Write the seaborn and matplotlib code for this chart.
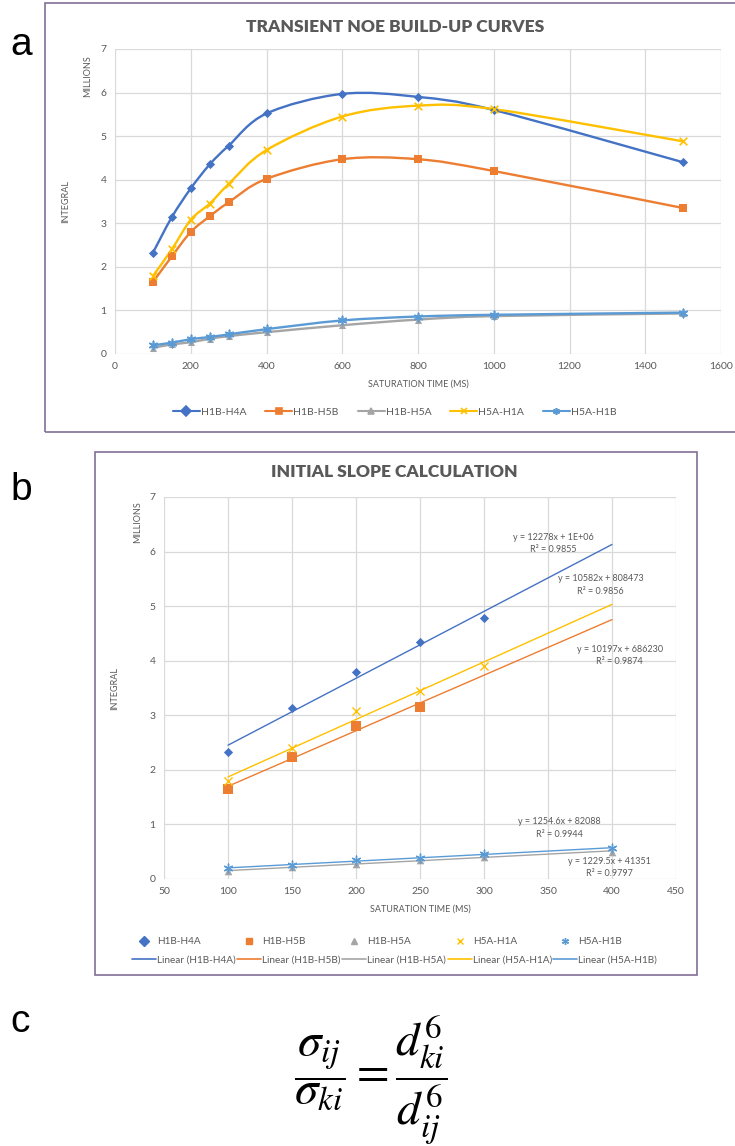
import numpy as np
import matplotlib
matplotlib.use("Agg")
import matplotlib.pyplot as plt
import seaborn as sns
from matplotlib.path import Path
from matplotlib.patches import PathPatch, Rectangle
from matplotlib.lines import Line2D

# saturation time (ms)
sat_time = [100, 150, 200, 250, 300, 400, 600, 800, 1000, 1500]

# integrals (millions)
h1b_h4a = [2.32, 3.14, 3.80, 4.35, 4.78, 5.52, 5.97, 5.90, 5.60, 4.40]
h1b_h5b = [1.65, 2.24, 2.80, 3.16, 3.48, 4.02, 4.47, 4.47, 4.20, 3.35]
h1b_h5a = [0.14, 0.22, 0.27, 0.35, 0.41, 0.50, 0.66, 0.79, 0.87, 0.93]
h5a_h1a = [1.79, 2.40, 3.08, 3.45, 3.90, 4.68, 5.45, 5.70, 5.62, 4.88]
h5a_h1b = [0.20, 0.26, 0.34, 0.39, 0.45, 0.57, 0.77, 0.86, 0.90, 0.95]

series_names = ["H1B-H4A", "H1B-H5B", "H1B-H5A", "H5A-H1A", "H5A-H1B"]
series_vals = [h1b_h4a, h1b_h5b, h1b_h5a, h5a_h1a, h5a_h1b]

# number of leading points used for the initial slope fit
n_initial = [5, 4, 6, 5, 6]
fit_range = [100, 400]

trend_text = [
    "y = 12278x + 1E+06\nR² = 0.9855",
    "y = 10197x + 686230\nR² = 0.9874",
    "y = 1229.5x + 41351\nR² = 0.9797",
    "y = 10582x + 808473\nR² = 0.9856",
    "y = 1254.6x + 82088\nR² = 0.9944",
]
trend_pos = [(354, 6.15), (406, 4.10), (398, 0.21), (391, 5.39), (359, 0.93)]

colors = ["#4472C4", "#ED7D31", "#A5A5A5", "#FFC000", "#5B9BD5"]
markers = ["D", "s", "^", "x", (6, 2, 0)]
msize_a = [22, 30, 26, 30, 36]
msize_b = [22, 50, 30, 34, 40]

text_grey = "#595959"
grid_grey = "#d9d9d9"
frame_col = "#826e96"

sns.set_theme(style="white")
plt.rcParams["font.family"] = ["Lato", "DejaVu Sans"]
plt.rcParams["mathtext.fontset"] = "stix"

fig = plt.figure(figsize=(7.35, 11.46), dpi=100)
fig.patch.set_facecolor("white")


def smooth_path(x, y):
    # excel-like smoothed line through the points (cubic bezier)
    pts = np.column_stack([x, y]).astype(float)
    verts = [pts[0]]
    codes = [Path.MOVETO]
    for i in range(len(pts) - 1):
        p0 = pts[i - 1] if i > 0 else pts[i]
        p3 = pts[i + 2] if i + 2 < len(pts) else pts[i + 1]
        c1 = pts[i] + (pts[i + 1] - p0) / 6
        c2 = pts[i + 1] - (p3 - pts[i]) / 6
        verts += [c1, c2, pts[i + 1]]
        codes += [Path.CURVE4] * 3
    return Path(verts, codes)


def style_axes(ax, xlim, xticks):
    ax.set_xlim(xlim)
    ax.set_ylim(0, 7)
    ax.set_xticks(xticks)
    ax.set_yticks(range(8))
    ax.grid(True, color=grid_grey, lw=0.9)
    ax.set_axisbelow(True)
    for s in ax.spines.values():
        s.set_visible(False)
    ax.tick_params(length=0, labelsize=7.5, labelcolor=text_grey, pad=6)
    ax.set_xlabel("SATURATION TIME (MS)", fontsize=6.5, color=text_grey, labelpad=6)
    ax.set_ylabel("INTEGRAL", fontsize=6.5, color=text_grey, labelpad=22)


# ---------- panel a ----------
fig.add_artist(Rectangle((45 / 735, 1 - 432 / 1146), 0.99, 429 / 1146,
                         transform=fig.transFigure, fill=False, ec=frame_col, lw=1.2))
ax1 = fig.add_axes([115 / 735, 1 - 354 / 1146, 606 / 735, 305 / 1146])
style_axes(ax1, (0, 1600), range(0, 1601, 200))

for name, vals, c, m, s in zip(series_names, series_vals, colors, markers, msize_a):
    ax1.add_patch(PathPatch(smooth_path(sat_time, vals), fill=False, ec=c, lw=1.7, zorder=2))
    sns.scatterplot(x=sat_time, y=vals, marker=m, color=c, s=s, ax=ax1,
                    linewidth=1.2 if m in ("x", (6, 2, 0)) else 0, zorder=3, legend=False)

fig.text(0.537, 1 - 27 / 1146, "TRANSIENT NOE BUILD-UP CURVES", ha="center", va="center",
         fontsize=12.5, fontweight="heavy", color=text_grey)
fig.text(88 / 735, 1 - 76 / 1146, "MILLIONS", rotation=90, ha="center", va="center",
         fontsize=6.5, color=text_grey)

handles_a = [Line2D([], [], color=c, marker=m, lw=1.5, markersize=5, mew=1.2)
             for c, m in zip(colors, markers)]
fig.legend(handles_a, series_names, loc="center", bbox_to_anchor=(0.537, 1 - 412 / 1146),
           ncol=5, frameon=False, fontsize=7.5, handlelength=2.6, handletextpad=0.1,
           columnspacing=1.8, labelcolor=text_grey)

# ---------- panel b ----------
fig.add_artist(Rectangle((95 / 735, 1 - 975 / 1146), 602 / 735, 523 / 1146,
                         transform=fig.transFigure, fill=False, ec=frame_col, lw=1.2))
ax2 = fig.add_axes([164 / 735, 1 - 879 / 1146, 512 / 735, 382 / 1146])
style_axes(ax2, (50, 450), range(50, 451, 50))

for name, vals, c, m, s, n, txt, pos in zip(series_names, series_vals, colors, markers,
                                            msize_b, n_initial, trend_text, trend_pos):
    xs = sat_time[:n]
    ys = vals[:n]
    coef = np.polyfit(xs, ys, 1)
    sns.lineplot(x=fit_range, y=np.polyval(coef, fit_range), color=c, lw=1.0, ax=ax2, zorder=2)
    sns.scatterplot(x=xs, y=ys, marker=m, color=c, s=s, ax=ax2,
                    linewidth=1.0 if m in ("x", (6, 2, 0)) else 0, zorder=3, legend=False)
    ax2.text(pos[0], pos[1], txt, ha="center", va="center", fontsize=6.5,
             color=text_grey, linespacing=1.5, zorder=4)

fig.text(0.537, 1 - 472 / 1146, "INITIAL SLOPE CALCULATION", ha="center", va="center",
         fontsize=12.5, fontweight="heavy", color=text_grey)
fig.text(138 / 735, 1 - 522 / 1146, "MILLIONS", rotation=90, ha="center", va="center",
         fontsize=6.5, color=text_grey)

handles_b = []
labels_b = []
for name, c, m in zip(series_names, colors, markers):
    handles_b.append(Line2D([], [], color=c, marker=m, lw=0, markersize=5, mew=1.0))
    labels_b.append(name)
    handles_b.append(Line2D([], [], color=c, lw=1.2))
    labels_b.append(f"Linear ({name})")
fig.legend(handles_b, labels_b, loc="center", bbox_to_anchor=(0.537, 1 - 951 / 1146),
           ncol=5, frameon=False, fontsize=7.2, handlelength=2.4, handletextpad=0.1,
           columnspacing=0.15, labelcolor=text_grey, borderpad=0, labelspacing=0.9)

# ---------- panel letters and formula ----------
for letter, y in [("a", 45), ("b", 490), ("c", 1022)]:
    fig.text(10 / 735, 1 - y / 1146, letter, ha="left", va="center", fontsize=28,
             family="Liberation Sans", color="black")

fig.text(371 / 735, 1 - 1080 / 1146,
         r"$\dfrac{\sigma_{ij}}{\sigma_{ki}} = \dfrac{d_{ki}^{6}}{d_{ij}^{6}}$",
         ha="center", va="center", fontsize=34, color="black")

fig.savefig("out.png", dpi=100, facecolor="white")
